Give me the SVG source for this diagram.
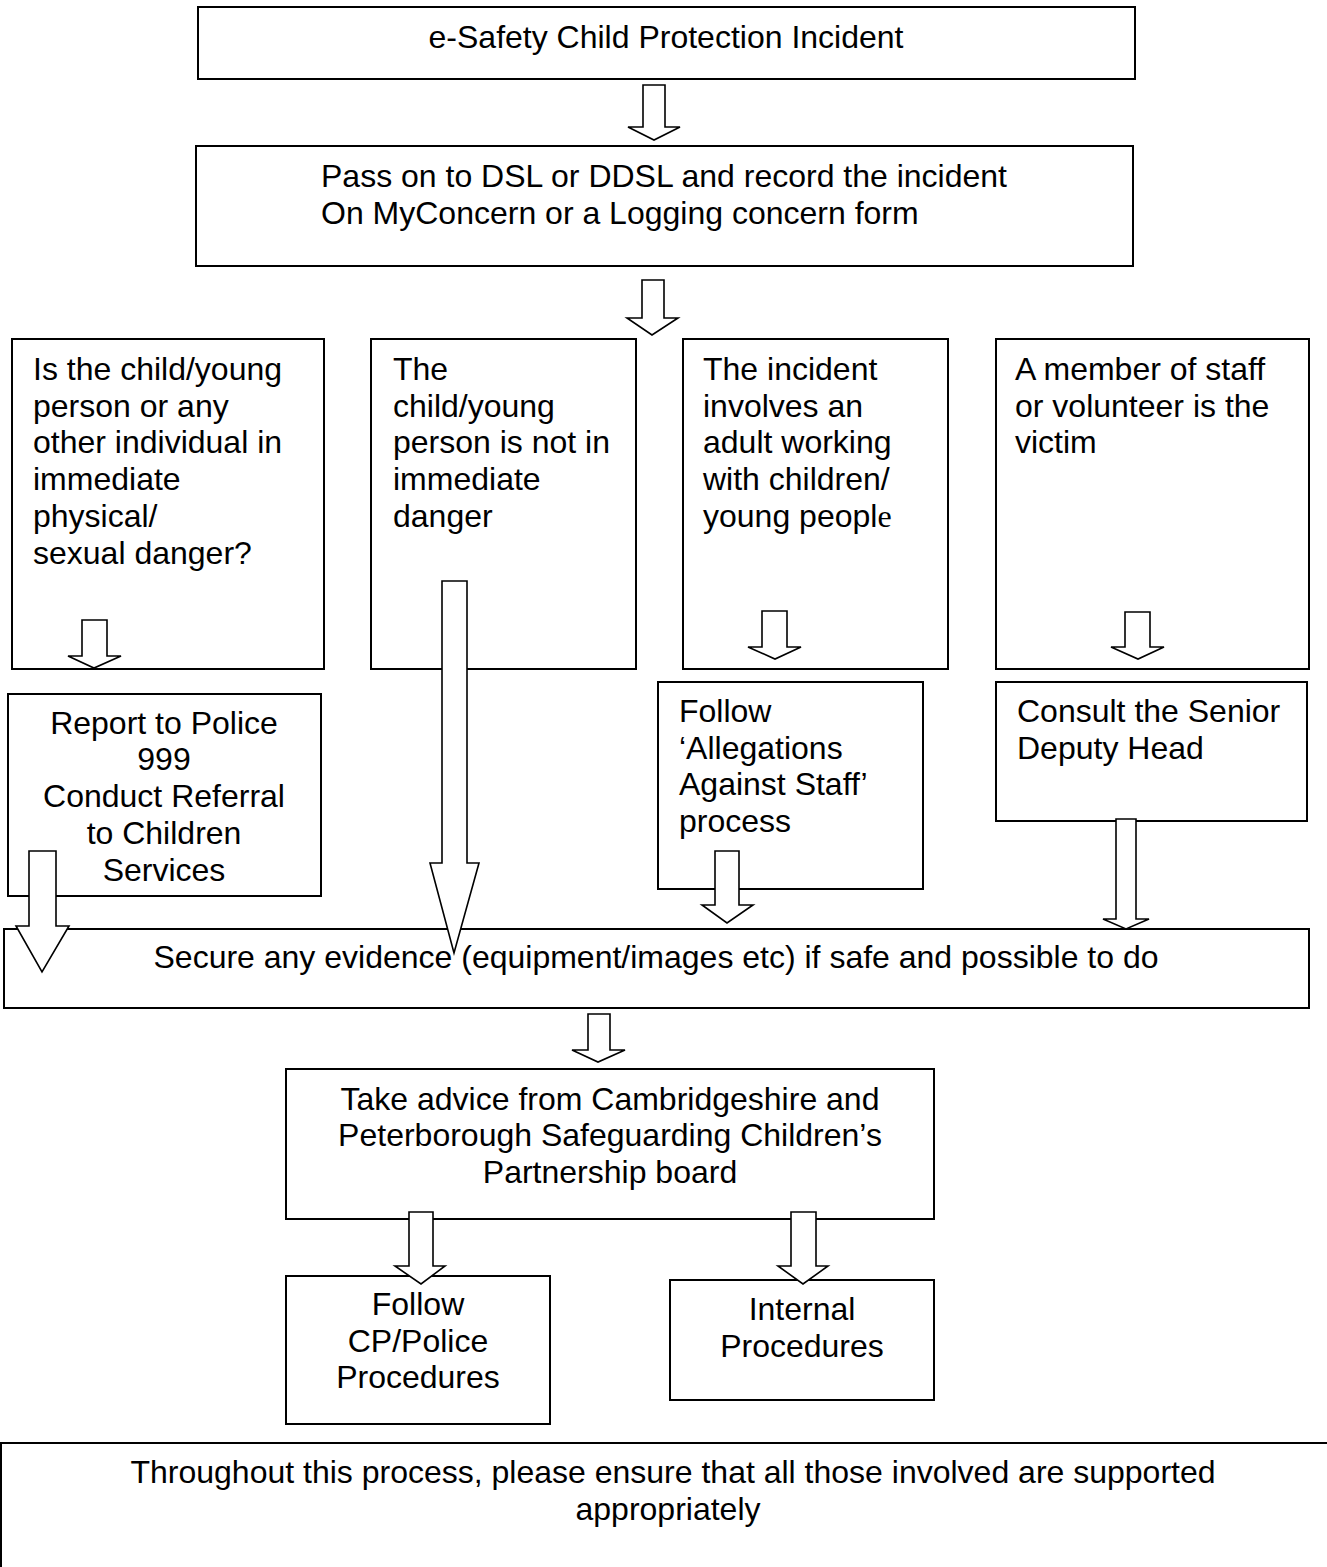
<svg xmlns="http://www.w3.org/2000/svg" width="1327" height="1567" viewBox="0 0 1327 1567">
<style>
.box{fill:#fff;stroke:#000;stroke-width:2}
.arr{fill:#fff;stroke:#000;stroke-width:1.6;stroke-linejoin:miter}
text{font-family:"Liberation Sans",Arial,sans-serif;font-size:32px;fill:#000}
.c{text-anchor:middle}
.serif{font-family:"Liberation Serif","Times New Roman",serif}
</style>
<rect width="1327" height="1567" fill="#fff"/>
<g id="n-incident"><rect class="box" x="198" y="7" width="937" height="72"/><text x="666" y="48" class="c">e-Safety Child Protection Incident</text></g>
<g id="n-pass"><rect class="box" x="196" y="146" width="937" height="120"/><text x="321" y="187">Pass on to DSL or DDSL and record the incident</text><text x="321" y="224">On MyConcern or a Logging concern form</text></g>
<g id="n-danger"><rect class="box" x="12" y="339" width="312" height="330"/><text x="33" y="380">Is the child/young</text><text x="33" y="417">person or any</text><text x="33" y="453">other individual in</text><text x="33" y="490">immediate</text><text x="33" y="527">physical/</text><text x="33" y="564">sexual danger?</text></g>
<g id="n-notdanger"><rect class="box" x="371" y="339" width="265" height="330"/><text x="393" y="380">The</text><text x="393" y="417">child/young</text><text x="393" y="453">person is not in</text><text x="393" y="490">immediate</text><text x="393" y="527">danger</text></g>
<g id="n-adult"><rect class="box" x="683" y="339" width="265" height="330"/><text x="703" y="380">The incident</text><text x="703" y="417">involves an</text><text x="703" y="453">adult working</text><text x="703" y="490">with children/</text><text x="703" y="527">young peopl<tspan class="serif">e</tspan></text></g>
<g id="n-staff"><rect class="box" x="996" y="339" width="313" height="330"/><text x="1015" y="380">A member of staff</text><text x="1015" y="417">or volunteer is the</text><text x="1015" y="453">victim</text></g>
<g id="n-police"><rect class="box" x="8" y="694" width="313" height="202"/><text x="164" y="734" class="c">Report to Police</text><text x="164" y="770" class="c">999</text><text x="164" y="807" class="c">Conduct Referral</text><text x="164" y="844" class="c">to Children</text><text x="164" y="881" class="c">Services</text></g>
<g id="n-allegations"><rect class="box" x="658" y="682" width="265" height="207"/><text x="679" y="722">Follow</text><text x="679" y="759">‘Allegations</text><text x="679" y="795">Against Staff’</text><text x="679" y="832">process</text></g>
<g id="n-consult"><rect class="box" x="996" y="682" width="311" height="139"/><text x="1017" y="722">Consult the Senior</text><text x="1017" y="759">Deputy Head</text></g>
<g id="n-secure"><rect class="box" x="4" y="929" width="1305" height="79"/><text x="656" y="968" class="c">Secure any evidence (equipment/images etc) if safe and possible to do</text></g>
<g id="n-advice"><rect class="box" x="286" y="1069" width="648" height="150"/><text x="610" y="1110" class="c">Take advice from Cambridgeshire and</text><text x="610" y="1146" class="c">Peterborough Safeguarding Children’s</text><text x="610" y="1183" class="c">Partnership board</text></g>
<g id="n-cp"><rect class="box" x="286" y="1276" width="264" height="148"/><text x="418" y="1315" class="c">Follow</text><text x="418" y="1352" class="c">CP/Police</text><text x="418" y="1388" class="c">Procedures</text></g>
<g id="n-internal"><rect class="box" x="670" y="1280" width="264" height="120"/><text x="802" y="1320" class="c">Internal</text><text x="802" y="1357" class="c">Procedures</text></g>
<g id="n-support"><rect class="box" x="1" y="1443" width="1360" height="200"/><text x="673" y="1483" class="c">Throughout this process, please ensure that all those involved are supported</text><text x="668" y="1520" class="c">appropriately</text></g>
<g id="connectors">
<polygon class="arr" points="643,85 665,85 665,127 680,127 654,140 628,127 643,127"/>
<polygon class="arr" points="642,280 664,280 664,318 678,318 652,335 627,318 642,318"/>
<polygon class="arr" points="82,620 107,620 107,656 121,656 94,668 68,656 82,656"/>
<polygon class="arr" points="762,611 787,611 787,647 801,647 775,659 748,647 762,647"/>
<polygon class="arr" points="1125,612 1150,612 1150,647 1164,647 1138,659 1111,647 1125,647"/>
<polygon class="arr" points="29,851 56,851 56,926 69,926 42,972 16,926 29,926"/>
<polygon class="arr" points="442,581 467,581 467,863 479,863 454,953 430,863 442,863"/>
<polygon class="arr" points="715,851 739,851 739,905 753,905 727,923 702,905 715,905"/>
<polygon class="arr" points="1116,819 1136,819 1136,919 1149,919 1126,929 1103,919 1116,919"/>
<polygon class="arr" points="588,1014 610,1014 610,1050 625,1050 598,1062 572,1050 588,1050"/>
<polygon class="arr" points="409,1212 433,1212 433,1266 445,1266 421,1284 395,1266 409,1266"/>
<polygon class="arr" points="791,1212 816,1212 816,1266 828,1266 803,1284 778,1266 791,1266"/>
</g>
</svg>
